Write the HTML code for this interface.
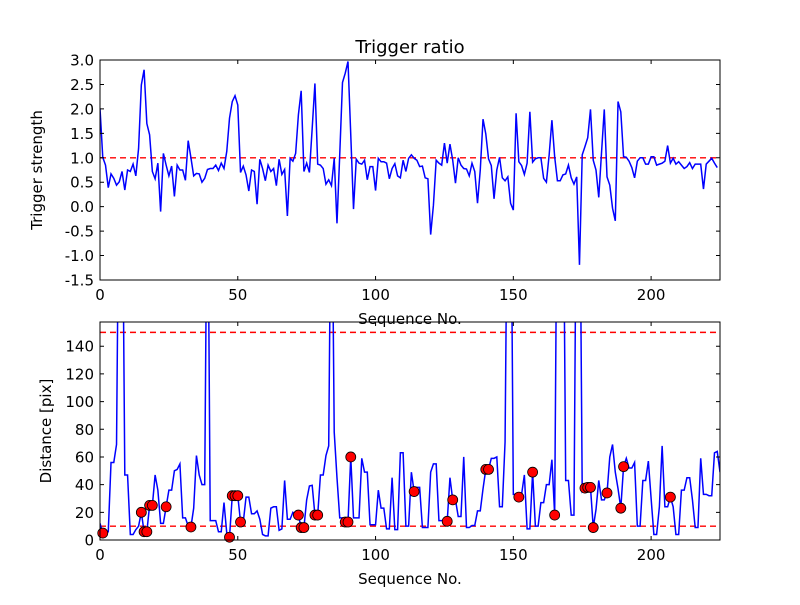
<!DOCTYPE html>
<html><head><meta charset="utf-8"><style>
html,body{margin:0;padding:0;background:#fff;}
svg text{font-family:"DejaVu Sans","Liberation Sans",sans-serif;fill:#000;}
</style></head><body>
<svg id="fig" width="800" height="600" xmlns="http://www.w3.org/2000/svg">
<rect width="800" height="600" fill="#fff"/>
<defs>
<clipPath id="c1"><rect x="100" y="60" width="620" height="220"/></clipPath>
<clipPath id="c2"><rect x="100" y="322" width="620" height="218"/></clipPath>
</defs>
<g id="top"></g>
<g id="bot"></g>
</svg>
<script>
const xTicks = [0, 50, 100, 150, 200];
const topYTicks = [-1.5, -1.0, -0.5, 0.0, 0.5, 1.0, 1.5, 2.0, 2.5, 3.0];
const botYTicks = [0, 20, 40, 60, 80, 100, 120, 140];
const triggerThreshold = [1.0];
const distThresholds = [10, 150];
const triggerStrength = [2.01,1.01,0.85,0.39,0.67,0.58,0.44,0.51,0.72,0.34,0.75,0.72,0.87,0.63,1.19,2.49,2.80,1.70,1.47,0.72,0.57,0.89,-0.10,1.09,0.85,0.63,0.83,0.21,0.85,0.75,0.75,0.54,1.35,1.00,0.63,0.68,0.67,0.50,0.58,0.76,0.78,0.78,0.85,0.74,0.89,0.78,1.13,1.81,2.15,2.27,2.08,0.70,0.83,0.65,0.32,0.75,0.72,0.05,0.97,0.78,0.53,0.85,0.72,0.78,0.43,0.97,0.66,0.76,-0.19,0.99,0.93,1.09,1.88,2.37,0.72,0.89,
0.70,1.60,2.52,0.87,0.85,0.78,0.46,0.55,0.43,0.99,-0.34,1.06,2.54,2.73,2.97,1.47,-0.05,0.97,0.89,0.87,0.95,0.55,0.82,0.82,0.33,0.99,0.92,0.92,0.89,0.57,0.78,0.88,0.63,0.59,0.95,0.72,0.99,1.06,0.99,0.95,0.82,0.83,0.59,0.57,-0.57,0.03,0.95,0.89,0.85,1.30,0.89,1.28,0.95,0.48,1.00,0.85,0.78,0.77,0.63,0.89,0.72,0.07,0.75,1.79,1.49,0.98,0.84,0.16,0.75,1.01,0.59,0.53,0.61,0.07,-0.07,
1.91,0.92,0.84,0.66,0.89,1.94,0.91,0.98,1.00,1.00,0.58,0.50,1.06,1.77,1.02,0.53,0.53,0.65,0.67,0.85,0.59,0.46,0.61,-1.19,1.06,1.23,1.41,1.99,0.95,0.75,0.19,1.10,1.99,0.61,0.44,-0.03,-0.29,2.15,1.94,1.02,1.01,0.93,0.80,0.59,0.93,1.00,1.00,0.87,0.87,1.02,1.02,0.85,0.87,0.89,0.93,1.25,0.89,0.99,0.87,0.92,0.85,0.78,0.82,0.90,0.78,0.87,0.87,0.87,0.36,0.87,0.93,0.99,0.89,0.80];
const distance = [12,5,6,6,56,56,69,300,300,47,47,4,4,7.5,10,20,6,6,25,25,47,36,12,12,24,36,36,50,51,55,16,16,10,9.4,23,61,47,40,40,300,14,14,14,6,6,27,5,2,32,32,32,13,13,31,31,19,19,21,15,4,3,3,23,24,24,7,8,43,15,15,20,18,18,9,9,29,39,39.5,18,18,47,47,61,68,300,78,45,16,16,13,13,60,16,16,16,59,49,49,11,11,11,36,23,23,8,8,45,7.5,7.5,63,63,10,10,49,35,38,38,9,9,9,49,55,55,14,14,14,13.5,45,29,29,17,17,60,9,9,10.5,10.5,21,21,37,51,51,59,59,60,24,24,71,300,300,33,33,31,33,47,8,8,49,10,10,27,27,40,40,58,18,300,300,300,43,43,18,18,300,300,35,37.5,38,38,9,22,43,29,29,34,60,69,49,37,23,53,59,52,52,56,10,10,43,43,57,30,4,4,24,68,24,24,31,24,4,4,36,36,45,45,29,9,9,59,33,33,32,32,63,64,49];
const markerIdx = [1,15,16,17,18,19,24,33,47,48,49,50,51,72,73,74,78,79,89,90,91,114,126,128,140,141,152,157,165,176,177,178,179,184,189,190,207];

const NS = "http://www.w3.org/2000/svg";
function el(tag, attrs, parent, text){
  const e = document.createElementNS(NS, tag);
  for (const k in attrs) e.setAttribute(k, attrs[k]);
  if (text !== undefined) e.textContent = text;
  parent.appendChild(e); return e;
}
const X0=100, X1=720, XMAX=225;
const xs = v => X0 + v/XMAX*(X1-X0);

function axes(g, top, bot, ymin, ymax, yTicks, fmt, name){
  const ys = v => bot - (v-ymin)/(ymax-ymin)*(bot-top);
  return {ys, draw(){
    const frame = el('rect',{x:X0,y:top,width:X1-X0,height:bot-top,fill:'none',stroke:'#000','stroke-width':1},g);
    
    
    xTicks.forEach(t=>{
      const x = xs(t);
      const tk = el('path',{d:`M${x},${bot}v-4M${x},${top}v4`,stroke:'#000','stroke-width':1},g);
      
      
      const lb = el('text',{x:x,y:bot+20,'font-size':15,'text-anchor':'middle'},g,String(t));
      
      
    });
    yTicks.forEach(t=>{
      const y = ys(t);
      const tk = el('path',{d:`M${X0},${y}h4M${X1},${y}h-4`,stroke:'#000','stroke-width':1},g);
      
      
      const lb = el('text',{x:94,y:y+5.5,'font-size':15,'text-anchor':'end'},g,fmt(t));
      
      
    });
  }};
}

// Top chart
const gT = document.getElementById('top');
const aT = axes(gT, 60, 280, -1.5, 3.0, topYTicks, v=>v.toFixed(1), 'top');
triggerThreshold.forEach(v=>{
  const l = el('line',{x1:X0,x2:X1,y1:aT.ys(v),y2:aT.ys(v),stroke:'#ff0000','stroke-width':1.4,'stroke-dasharray':'6,4'},gT);
  
  
});
{
  const d = triggerStrength.map((v,i)=>(i?'L':'M')+xs(i).toFixed(2)+','+aT.ys(v).toFixed(2)).join('');
  const p = el('path',{d:d,fill:'none',stroke:'#0000ff','stroke-width':1.5,'clip-path':'url(#c1)'},gT);
  
  
}
aT.draw();
{
  const t = el('text',{x:410,y:53,'font-size':18,'text-anchor':'middle'},gT,'Trigger ratio');
   
  const xl = el('text',{x:410,y:324,'font-size':15,'text-anchor':'middle'},gT,'Sequence No.');
   
  const yl = el('text',{x:0,y:0,'font-size':15,'text-anchor':'middle',transform:'translate(42,170) rotate(-90)'},gT,'Trigger strength');
   
}

// Bottom chart
const gB = document.getElementById('bot');
const aB = axes(gB, 322, 540, 0, 157.5, botYTicks, v=>String(v), 'bottom');
distThresholds.forEach(v=>{
  const l = el('line',{x1:X0,x2:X1,y1:aB.ys(v),y2:aB.ys(v),stroke:'#ff0000','stroke-width':1.4,'stroke-dasharray':'6,4'},gB);
  
  
});
{
  const d = distance.map((v,i)=>(i?'L':'M')+xs(i).toFixed(2)+','+aB.ys(v).toFixed(2)).join('');
  const p = el('path',{d:d,fill:'none',stroke:'#0000ff','stroke-width':1.5,'clip-path':'url(#c2)'},gB);
  
  
}
markerIdx.forEach(i=>{
  const c = el('circle',{cx:xs(i),cy:aB.ys(distance[i]),r:5,fill:'#ff0000',stroke:'#000','stroke-width':0.8},gB);
  
  
});
aB.draw();
{
  const xl = el('text',{x:410,y:584,'font-size':15,'text-anchor':'middle'},gB,'Sequence No.');
   
  const yl = el('text',{x:0,y:0,'font-size':15,'text-anchor':'middle',transform:'translate(51,431) rotate(-90)'},gB,'Distance [pix]');
   
}
</script>
</body></html>
